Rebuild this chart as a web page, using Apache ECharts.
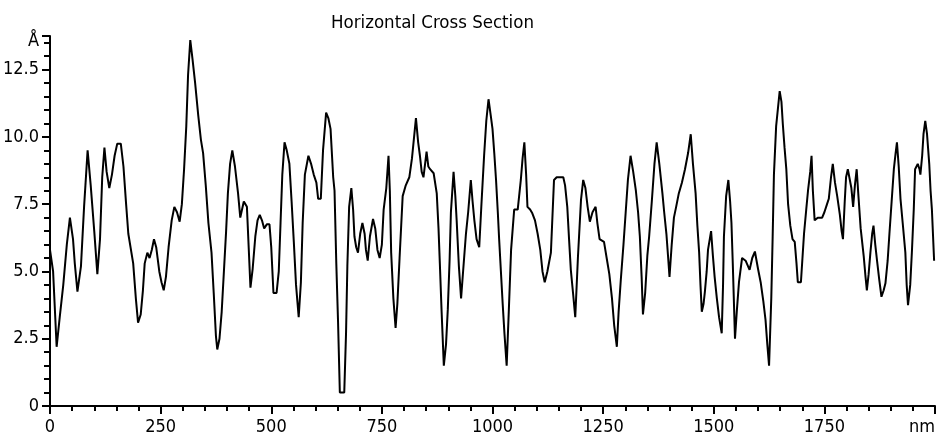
<!DOCTYPE html>
<html>
<head>
<meta charset="utf-8">
<script src="https://cdn.jsdelivr.net/npm/echarts@6/dist/echarts.min.js"></script>
<style>html,body{margin:0;padding:0;background:#fff}#c{width:941px;height:442px}</style>
</head>
<body>
<div id="c"></div>
<script>
var titleText = 'Horizontal Cross Section';
var yUnit = 'Å';
var xUnit = 'nm';
var xTickValues = [0, 250, 500, 750, 1000, 1250, 1500, 1750, 2000];
var yTickValues = [0, 2.5, 5.0, 7.5, 10.0, 12.5];

var positionNm = [0,7,15,22,30,38,45,52,56,62,70,77,85,92,100,107,113,118,123,128,134,140,146,152,160,166,172,177,188,194,199,205,210,214,220,225,230,235,240,247,252,257,262,268,275,281,287,293,298,303,308,312,317,322,328,335,341,346,352,358,365,370,375,378,383,388,393,398,402,407,412,418,425,430,434,438,445,449,453,458,464,469,474,479,484,490,496,500,505,512,517,521,525,530,535,541,546,551,556,562,567,571,576,584,590,596,602,606,612,617,624,629,634,640,643,647,651,655,665,669,672,676,681,685,688,692,696,701,706,711,714,718,723,730,735,740,745,750,754,760,765,768,771,776,781,785,790,797,804,812,818,827,832,836,840,844,851,855,859,867,874,878,881,885,890,895,899,903,906,912,916,919,924,929,934,940,945,951,955,959,964,970,975,981,986,991,996,1000,1004,1008,1012,1015,1019,1023,1027,1032,1037,1042,1049,1057,1064,1068,1072,1076,1079,1085,1090,1096,1102,1108,1113,1118,1124,1132,1139,1145,1160,1164,1169,1173,1177,1182,1187,1193,1200,1205,1210,1215,1220,1226,1233,1237,1242,1252,1258,1264,1270,1275,1281,1285,1290,1296,1301,1306,1312,1318,1324,1329,1333,1337,1340,1345,1350,1354,1360,1366,1371,1377,1384,1388,1393,1397,1400,1405,1410,1415,1421,1428,1435,1442,1448,1453,1459,1463,1467,1470,1473,1477,1480,1484,1487,1494,1498,1502,1507,1512,1518,1521,1523,1528,1533,1537,1540,1543,1548,1552,1557,1564,1572,1581,1587,1593,1600,1606,1612,1617,1621,1625,1630,1633,1636,1641,1649,1653,1656,1660,1664,1668,1673,1678,1683,1687,1690,1697,1704,1709,1713,1718,1721,1724,1728,1735,1740,1745,1750,1756,1760,1765,1769,1774,1779,1785,1789,1792,1796,1799,1803,1807,1811,1815,1819,1823,1827,1832,1839,1843,1846,1850,1854,1858,1861,1865,1869,1874,1879,1884,1888,1893,1897,1902,1907,1911,1914,1918,1922,1927,1933,1936,1939,1944,1948,1952,1955,1961,1965,1967,1971,1974,1978,1982,1987,1990,1993,1998];

var heightA = [5.8,5.0,2.2,3.3,4.5,6.0,7.0,6.2,5.3,4.25,5.2,7.4,9.5,8.2,6.5,4.9,6.2,8.5,9.6,8.7,8.1,8.6,9.3,9.75,9.75,8.9,7.5,6.4,5.3,4.0,3.1,3.4,4.3,5.3,5.7,5.5,5.8,6.2,5.9,5.0,4.6,4.3,4.8,5.9,6.9,7.4,7.2,6.85,7.5,8.8,10.4,12.3,13.6,12.9,12.0,10.8,9.9,9.4,8.2,6.8,5.7,4.2,2.6,2.1,2.5,3.5,5.0,6.5,7.9,9.0,9.5,8.9,7.9,7.0,7.3,7.6,7.4,5.9,4.4,5.1,6.3,6.9,7.1,6.9,6.6,6.75,6.75,5.9,4.2,4.2,5.0,6.8,8.6,9.8,9.5,9.0,7.6,6.1,4.5,3.3,4.6,6.8,8.6,9.3,9.0,8.6,8.3,7.7,7.7,9.5,10.9,10.7,10.3,8.5,8.0,5.3,3.1,0.5,0.5,2.7,5.2,7.4,8.1,7.3,6.3,5.9,5.7,6.4,6.8,6.4,5.8,5.4,6.3,6.95,6.6,5.8,5.5,6.0,7.3,8.1,9.3,8.0,5.7,4.0,2.9,3.8,5.5,7.8,8.2,8.5,9.2,10.7,9.8,9.3,8.7,8.5,9.45,8.9,8.8,8.65,7.9,6.6,5.3,3.5,1.5,2.3,3.6,5.4,7.2,8.7,7.8,6.9,5.2,4.0,5.1,6.4,7.2,8.4,7.6,6.9,6.2,5.9,7.5,9.3,10.6,11.4,10.8,10.3,9.4,8.4,7.2,6.2,5.0,3.8,2.7,1.5,3.6,5.8,7.3,7.3,8.4,9.2,9.8,8.6,7.4,7.3,7.16,6.9,6.4,5.8,5.0,4.6,5.0,5.7,8.4,8.5,8.5,8.2,7.4,6.2,5.06,4.2,3.3,5.5,7.66,8.4,8.1,7.4,6.85,7.2,7.4,6.8,6.2,6.1,5.5,4.9,4.0,3.0,2.2,3.5,4.7,6.0,7.2,8.4,9.3,8.7,8.0,7.2,6.3,4.8,3.4,4.2,5.6,6.3,7.6,9.0,9.8,9.0,7.9,7.2,6.4,5.5,4.8,6.0,7.0,7.4,7.9,8.3,8.8,9.4,10.1,9.0,7.9,6.7,5.7,4.5,3.5,3.8,4.25,5.0,5.8,6.5,5.6,4.8,4.0,3.3,2.7,4.5,6.3,7.8,8.4,7.6,6.8,5.3,2.5,3.5,4.6,5.5,5.4,5.06,5.5,5.74,5.1,4.6,3.9,3.2,2.3,1.5,4.0,6.2,8.6,10.4,11.7,11.3,10.5,9.6,8.8,7.5,6.7,6.2,6.1,5.3,4.6,4.6,6.4,7.3,8.0,8.7,9.3,8.0,6.9,7.0,7.0,7.0,7.2,7.5,7.7,8.5,9.0,8.3,7.8,7.1,6.5,6.2,7.6,8.5,8.8,8.8,8.1,7.4,8.2,8.8,7.8,6.6,5.55,4.8,4.3,4.9,5.7,6.4,6.7,6.0,5.4,4.7,4.06,4.3,4.56,5.4,6.4,7.6,8.8,9.4,9.8,8.9,7.7,6.8,5.7,4.5,3.75,4.5,5.8,7.3,8.8,9.0,8.8,8.6,9.3,10.1,10.6,10.1,9.0,8.0,7.3,5.4];

var seriesData = positionNm.map(function (x, i) { return [x, heightA[i]]; });

var fontFam = '"DejaVu Sans Condensed", "DejaVu Sans", sans-serif';
var chart = echarts.init(document.getElementById('c'), null, {renderer: 'canvas'});
chart.setOption({
  animation: false,
  backgroundColor: '#ffffff',
  title: {
    text: titleText,
    left: 326, top: 9,
    textStyle: {fontFamily: fontFam, fontSize: 18.5, fontWeight: 'normal', color: '#000'}
  },
  grid: {left: 50, right: 6, top: 36, bottom: 36, containLabel: false, outerBoundsMode: 'none'},
  xAxis: {
    type: 'value', min: xTickValues[0], max: xTickValues[xTickValues.length - 1], interval: 250,
    axisLine: {lineStyle: {color: '#000', width: 2}},
    axisTick: {length: 8, lineStyle: {color: '#000', width: 2}},
    minorTick: {show: true, splitNumber: 5, length: 5, lineStyle: {color: '#000', width: 2}},
    splitLine: {show: false},
    axisLabel: {
      margin: 12, color: '#000', fontFamily: fontFam, fontSize: 18, alignMaxLabel: 'right',
      formatter: function (v) { return v === xTickValues[xTickValues.length - 1] ? xUnit : String(v); }
    }
  },
  yAxis: {
    type: 'value', min: 0, max: 13.75, interval: 2.5,
    axisLine: {show: true, lineStyle: {color: '#000', width: 2}},
    axisTick: {show: true, length: 8, lineStyle: {color: '#000', width: 2}},
    minorTick: {show: true, splitNumber: 5, length: 6, lineStyle: {color: '#000', width: 2}},
    splitLine: {show: false},
    axisLabel: {
      margin: 11, color: '#000', fontFamily: fontFam, fontSize: 18, showMaxLabel: true,
      rich: {u: {fontFamily: fontFam, fontSize: 18, color: '#000', padding: [10, 0, 0, 0]}},
      formatter: function (v) {
        if (v === 0) return '0';
        if (yTickValues.indexOf(v) >= 0) return v.toFixed(1);
        return '{u|' + yUnit + '}';
      }
    }
  },
  series: [{
    type: 'line', data: seriesData, showSymbol: false, symbol: 'none',
    lineStyle: {color: '#000', width: 2}
  }]
});
</script>
</body>
</html>
